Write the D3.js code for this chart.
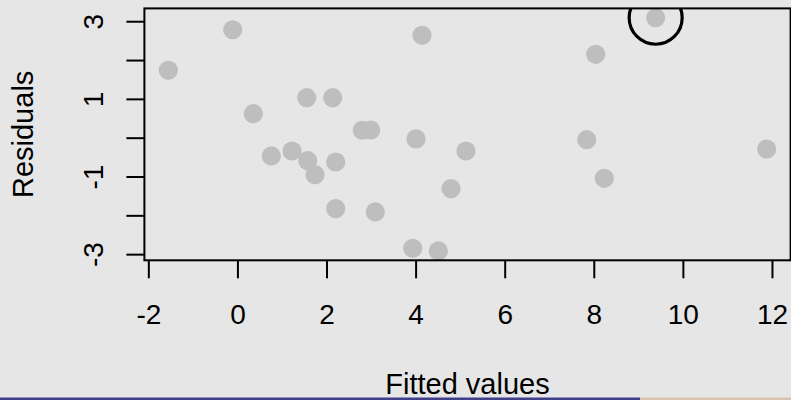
<!DOCTYPE html>
<html>
<head>
<meta charset="utf-8">
<script src="https://cdn.jsdelivr.net/npm/d3@7"></script>
<style>
  html, body { margin: 0; padding: 0; background: #e6e6e6; }
  svg { display: block; }
  text { font-family: "Liberation Sans", Arial, Helvetica, sans-serif; fill: #000; }
</style>
</head>
<body>
<svg id="chart" width="791" height="400"></svg>
<script>
// ---- data ----
const fitted = [-1.551, -0.106, 0.357, 0.761, 1.226, 1.556, 1.578, 1.742, 2.139, 2.206,
                2.206, 2.804, 2.992, 3.095, 4.009, 4.144, 3.935, 4.510, 4.795, 5.131,
                9.389, 8.043, 7.841, 8.236, 11.881];
const residuals = [1.736, 2.781, 0.618, -0.471, -0.343, 1.030, -0.592, -0.953, 1.030, -0.626,
                   -1.828, 0.191, 0.198, -1.913, -0.033, 2.637, -2.848, -2.918, -1.313, -0.343,
                   3.090, 2.148, -0.052, -1.046, -0.291];
const xTicks = [-2, 0, 2, 4, 6, 8, 10, 12];
const yTicks = [-3, -2, -1, 0, 1, 2, 3];
const yTickLabels = [-3, -1, 1, 3];
const xTitle = "Fitted values";
const yTitle = "Residuals";
const highlightIndex = 20; // point circled in the reference

// ---- layout ----
const W = 791, H = 400;
const plot = { left: 144.4, right: 790.6, top: 8.4, bottom: 260.3 };

const svg = d3.select("#chart");
svg.append("rect").attr("width", W).attr("height", H).attr("fill", "#e6e6e6");

// R-style 4% extension of data range
function ext(vals) {
  const [a, b] = d3.extent(vals);
  const p = (b - a) * 0.04;
  return [a - p, b + p];
}
const x = d3.scaleLinear().domain(ext(fitted)).range([plot.left, plot.right]);
const y = d3.scaleLinear().domain(ext(residuals)).range([plot.bottom, plot.top]);

const data = fitted.map((f, i) => ({ f, r: residuals[i], i }));

// clip
svg.append("clipPath").attr("id", "clip")
  .append("rect")
  .attr("x", plot.left).attr("y", plot.top)
  .attr("width", plot.right - plot.left).attr("height", plot.bottom - plot.top);

// points
svg.append("g").selectAll("circle").data(data).join("circle")
  .attr("cx", d => x(d.f)).attr("cy", d => y(d.r))
  .attr("r", 9.6).attr("fill", "#bebebe");

// highlight ring
const hp = data[highlightIndex];
svg.append("circle")
  .attr("clip-path", "url(#clip)")
  .attr("cx", x(hp.f)).attr("cy", y(hp.r))
  .attr("r", 26.5).attr("fill", "none")
  .attr("stroke", "#000").attr("stroke-width", 3.2);

// box
svg.append("rect")
  .attr("x", plot.left).attr("y", plot.top)
  .attr("width", plot.right - plot.left).attr("height", plot.bottom - plot.top)
  .attr("fill", "none").attr("stroke", "#000").attr("stroke-width", 2);

// x axis
const xAxis = svg.append("g")
  .attr("transform", `translate(0,${plot.bottom})`)
  .call(d3.axisBottom(x).tickValues(xTicks).tickSize(18).tickSizeOuter(0)
        .tickFormat(d => String(d)));
xAxis.select(".domain").remove();
xAxis.selectAll(".tick line").attr("stroke", "#000").attr("stroke-width", 2);
xAxis.selectAll(".tick text")
  .attr("y", 324 - plot.bottom).attr("dy", 0)
  .style("font-size", "28px").attr("fill", "#000");

// y axis
const labelSet = new Set(yTickLabels);
const yAxis = svg.append("g")
  .attr("transform", `translate(${plot.left},0)`)
  .call(d3.axisLeft(y).tickValues(yTicks).tickSize(18).tickSizeOuter(0)
        .tickFormat(d => labelSet.has(d) ? String(d) : ""));
yAxis.select(".domain").remove();
yAxis.selectAll(".tick line").attr("stroke", "#000").attr("stroke-width", 2);
yAxis.selectAll(".tick text")
  .attr("x", 0).attr("dy", 0).attr("text-anchor", "middle")
  .attr("transform", `translate(${103 - plot.left},0) rotate(-90)`)
  .style("font-size", "28px").attr("fill", "#000");

// axis titles
svg.append("text")
  .attr("x", (plot.left + plot.right) / 2).attr("y", 394)
  .attr("text-anchor", "middle").style("font-size", "29px")
  .text(xTitle);
svg.append("text")
  .attr("transform", `translate(33,${(plot.top + plot.bottom) / 2}) rotate(-90)`)
  .attr("text-anchor", "middle").style("font-size", "29px")
  .text(yTitle);

// bottom decorative bar
svg.append("rect").attr("x", 0).attr("y", 397.5).attr("width", 640).attr("height", 2.5).attr("fill", "#3f3f8c");
svg.append("rect").attr("x", 640).attr("y", 397.5).attr("width", 151).attr("height", 2.5).attr("fill", "#d8c3b0");
</script>
</body>
</html>
